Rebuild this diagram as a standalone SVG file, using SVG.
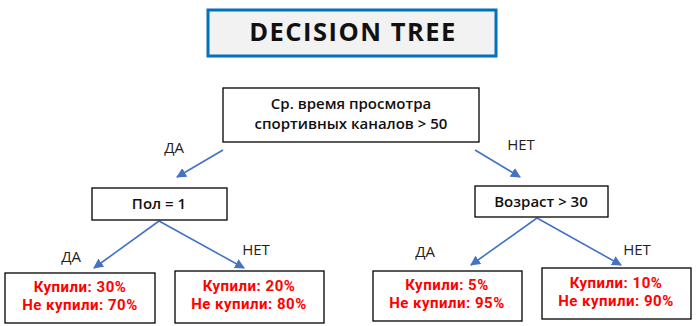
<svg xmlns="http://www.w3.org/2000/svg" width="696" height="326" viewBox="0 0 696 326">
<defs>
<marker id="ah" viewBox="0 0 10 10" refX="9" refY="5" markerWidth="10" markerHeight="10" markerUnits="userSpaceOnUse" orient="auto">
<path d="M0,0 L10,5 L0,10 z" fill="#4472c4"/>
</marker>
<style>
.box{fill:#ffffff;stroke:#000000;stroke-width:1.3}
.t{font-family:"Open Sans","Liberation Sans",sans-serif;font-size:15px;font-weight:600;fill:#111;text-anchor:middle}
.r{font-family:Roboto,"Liberation Sans",sans-serif;font-size:15px;font-weight:700;letter-spacing:0.5px;fill:#ff0000;text-anchor:middle}
.lbl{font-family:"Open Sans","Liberation Sans",sans-serif;font-size:15px;fill:#222;text-anchor:middle}
.c{stroke:#4472c4;stroke-width:1.6;fill:none;marker-end:url(#ah)}
</style>
</defs>
<rect width="696" height="326" fill="#ffffff"/>
<g id="title">
<rect x="208" y="10" width="288" height="46" fill="#f2f2f2" stroke="#0070c0" stroke-width="3"/>
<text x="353" y="41" style="font-family:'Open Sans','Liberation Sans',sans-serif;font-size:25.5px;font-weight:700;letter-spacing:1.5px;fill:#111;text-anchor:middle">DECISION TREE</text>
</g>
<g id="connectors">
<line class="c" x1="223" y1="150" x2="177" y2="177"/>
<line class="c" x1="475" y1="150" x2="520" y2="177"/>
<line class="c" x1="159" y1="221" x2="94" y2="268"/>
<line class="c" x1="159" y1="221" x2="244" y2="268"/>
<line class="c" x1="537" y1="218" x2="471" y2="265"/>
<line class="c" x1="537" y1="218" x2="621" y2="265"/>
<text class="lbl" x="174" y="153">ДА</text>
<text class="lbl" x="521" y="150">НЕТ</text>
<text class="lbl" x="71" y="262">ДА</text>
<text class="lbl" x="256" y="255">НЕТ</text>
<text class="lbl" x="425" y="257">ДА</text>
<text class="lbl" x="637" y="255">НЕТ</text>
</g>
<g id="root">
<rect class="box" x="223" y="88" width="256" height="54"/>
<text class="t" x="351" y="109">Ср. время просмотра</text>
<text class="t" x="351" y="129">спортивных каналов &gt; 50</text>
</g>
<g id="pol">
<rect class="box" x="92" y="188" width="135" height="32"/>
<text class="t" x="159" y="209">Пол = 1</text>
</g>
<g id="vozrast">
<rect class="box" x="475" y="186" width="133" height="31"/>
<text class="t" x="541" y="207">Возраст &gt; 30</text>
</g>
<g id="leaf1">
<rect class="box" x="5" y="273" width="150" height="50"/>
<text class="r" x="80" y="292">Купили: 30%</text>
<text class="r" x="80" y="310">Не купили: 70%</text>
</g>
<g id="leaf2">
<rect class="box" x="175" y="271" width="149" height="52"/>
<text class="r" x="249" y="291">Купили: 20%</text>
<text class="r" x="249" y="309">Не купили: 80%</text>
</g>
<g id="leaf3">
<rect class="box" x="373" y="271" width="149" height="50"/>
<text class="r" x="447" y="290">Купили: 5%</text>
<text class="r" x="447" y="308">Не купили: 95%</text>
</g>
<g id="leaf4">
<rect class="box" x="542" y="268" width="149" height="51"/>
<text class="r" x="616" y="288">Купили: 10%</text>
<text class="r" x="616" y="306">Не купили: 90%</text>
</g>
</svg>
